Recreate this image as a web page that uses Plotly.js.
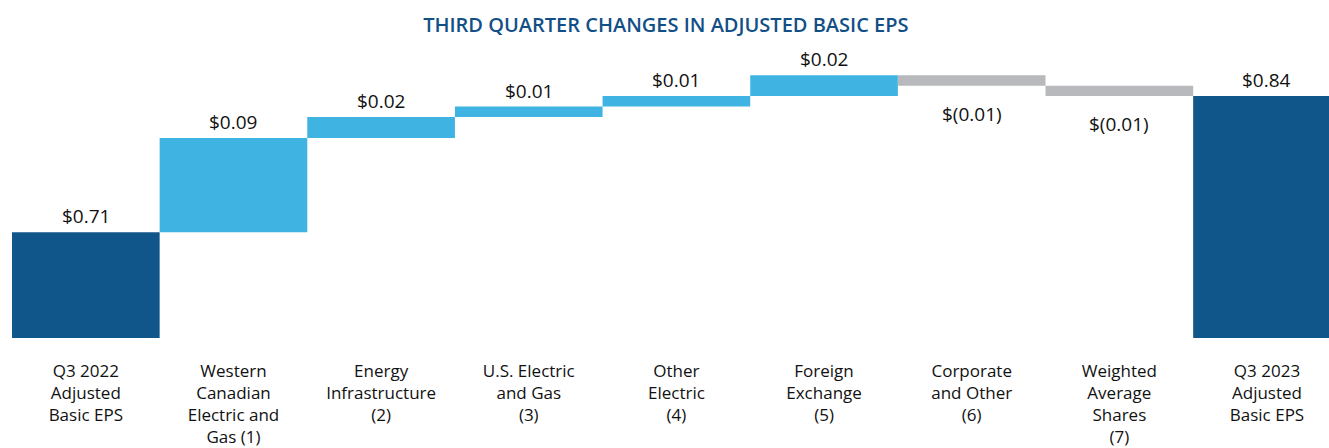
<!DOCTYPE html>
<html>
<head>
<meta charset="utf-8">
<script src="https://cdn.plot.ly/plotly-3.0.1.min.js"></script>
<style>
html,body{margin:0;padding:0;background:#fff;overflow:hidden;}
#chart{width:1329px;height:448px;}
</style>
</head>
<body>
<div id="chart"></div>
<script>
// ---- data ----
const categories = [
  "Q3 2022 Adjusted Basic EPS",
  "Western Canadian Electric and Gas (1)",
  "Energy Infrastructure (2)",
  "U.S. Electric and Gas (3)",
  "Other Electric (4)",
  "Foreign Exchange (5)",
  "Corporate and Other (6)",
  "Weighted Average Shares (7)",
  "Q3 2023 Adjusted Basic EPS"
];
const tickLabels = [
  "Q3 2022<br>Adjusted<br>Basic EPS",
  "Western<br>Canadian<br>Electric and<br>Gas (1)",
  "Energy<br>Infrastructure<br>(2)",
  "U.S. Electric<br>and Gas<br>(3)",
  "Other<br>Electric<br>(4)",
  "Foreign<br>Exchange<br>(5)",
  "Corporate<br>and Other<br>(6)",
  "Weighted<br>Average<br>Shares<br>(7)",
  "Q3 2023<br>Adjusted<br>Basic EPS"
];
const values = [0.71, 0.09, 0.02, 0.01, 0.01, 0.02, -0.01, -0.01, 0.84];
const measures = ["absolute","relative","relative","relative","relative","relative","relative","relative","total"];

// ---- helpers ----
function fmt(v){ return v < 0 ? "$(" + Math.abs(v).toFixed(2) + ")" : "$" + v.toFixed(2); }

// label anchors (top of positive / bottom of negative bar) computed from data
const annotations = [];
let running = 0;
for (let i = 0; i < values.length; i++) {
  const v = values[i];
  let yAnchorVal, shift;
  if (measures[i] === "absolute") { running = v; yAnchorVal = v; shift = 16; }
  else if (measures[i] === "total") { yAnchorVal = running; shift = 16; }
  else {
    running = running + v;
    yAnchorVal = running;
    shift = v >= 0 ? 16 : -28;
  }
  annotations.push({
    x: i, y: yAnchorVal, xref: "x", yref: "y",
    text: fmt(measures[i] === "total" ? running : v),
    showarrow: false, yanchor: "middle", xanchor: "center", yshift: shift,
    font: {family: "Open Sans, sans-serif", size: 19, color: "#111111"}
  });
}

const trace = {
  type: "waterfall",
  x: categories.map((c, i) => i),
  y: values,
  measure: measures,
  connector: {visible: false},
  increasing: {marker: {color: "#3FB4E2"}},
  decreasing: {marker: {color: "#B8B9BC"}},
  totals: {marker: {color: "#10568B"}},
  textinfo: "none",
  hoverinfo: "skip",
  cliponaxis: true
};

const layout = {
  width: 1329, height: 448,
  margin: {l: 12, r: 0, t: 60, b: 110},
  paper_bgcolor: "#ffffff", plot_bgcolor: "#ffffff",
  showlegend: false,
  waterfallgap: 0,
  title: {
    text: "THIRD QUARTER CHANGES IN ADJUSTED BASIC EPS",
    x: 0.501, xref: "container", xanchor: "center",
    y: 1 - 25/448, yref: "container", yanchor: "middle",
    font: {family: "Open Sans, sans-serif", size: 20, color: "#124F87", weight: 600}
  },
  xaxis: {
    range: [-0.5, 8.42],
    tickmode: "array",
    tickvals: categories.map((c, i) => i),
    ticktext: tickLabels,
    showgrid: false, zeroline: false, showline: false, ticks: "",
    ticklabelstandoff: 21,
    tickfont: {family: "Open Sans, sans-serif", size: 17, color: "#111111"},
    fixedrange: true
  },
  yaxis: {
    range: [0.609, 0.8745],
    visible: false, showgrid: false, zeroline: false, fixedrange: true
  },
  annotations: annotations
};

Plotly.newPlot("chart", [trace], layout, {displayModeBar: false, staticPlot: true});
</script>
</body>
</html>
